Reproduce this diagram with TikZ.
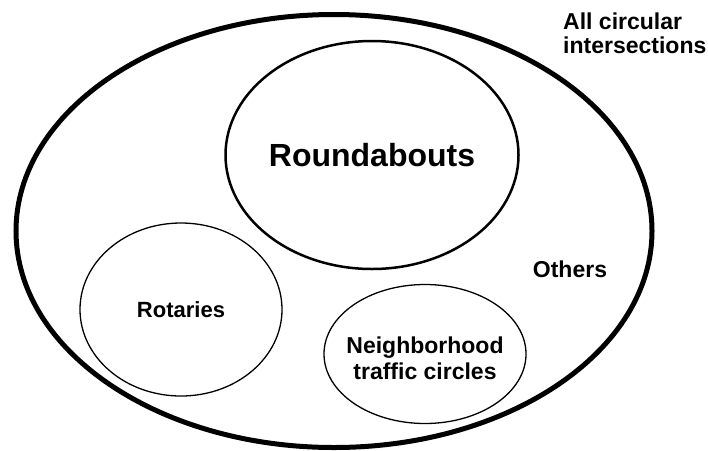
\documentclass[tikz,border=0pt]{standalone}
\usepackage{fontspec}
\setmainfont{Liberation Sans}
\usetikzlibrary{shapes.geometric}

\begin{document}
\begin{tikzpicture}[
  x=1pt, y=-1pt,
  set/.style={ellipse, draw, inner sep=0pt},
  txt/.style={font=\fontsize{23}{26}\selectfont\bfseries, align=center, inner sep=0pt}
]
  \useasboundingbox (0,0) rectangle (708,450);
  \node[set, line width=5pt, minimum width=636pt, minimum height=433pt] (all) at (334,231){};
  \node[set, line width=2.5pt, minimum width=293pt, minimum height=228pt] (round) at (372,155){};
  \node[set, line width=1.3pt, minimum width=202pt, minimum height=173pt] (rot) at (181,309.5){};
  \node[set, line width=1.3pt, minimum width=202pt, minimum height=139pt] (nbh) at (425,354){};
  \node[txt, font=\fontsize{32}{36}\selectfont\bfseries] (roundtxt) at (round.center){Roundabouts};
  \node[txt, font=\fontsize{22}{26}\selectfont\bfseries] (rottxt) at (rot.center){Rotaries};
  \node[txt] (nbhtxt) at ([yshift=-4pt]nbh.center){Neighborhood\\traffic circles};
  \node[txt] (oth) at (570,269){Others};
  \node[txt, anchor=north west, align=left, font=\fontsize{23}{24}\selectfont\bfseries]
    (lbl) at (563,13){All circular\\intersections};
\end{tikzpicture}
\end{document}
